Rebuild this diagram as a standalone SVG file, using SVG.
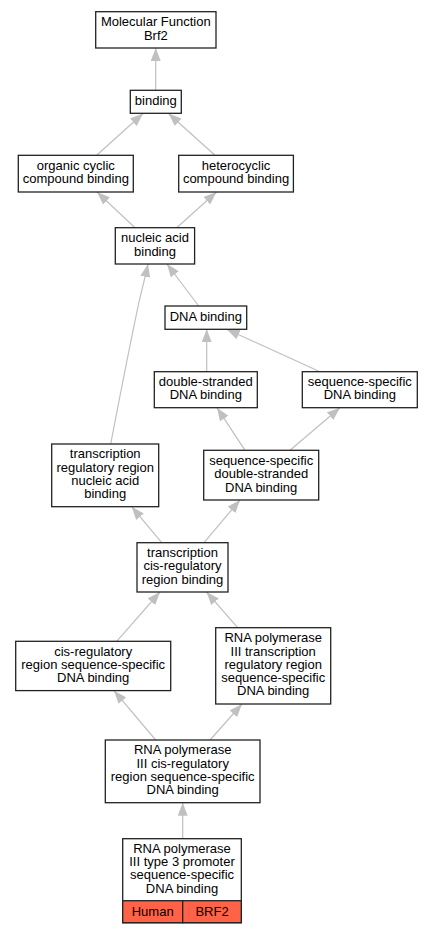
<svg xmlns="http://www.w3.org/2000/svg" width="433" height="933" viewBox="0 0 433 933">
<style>
.n rect{fill:#fff;stroke:#222;stroke-width:1.3}
.n text,.c text{font-family:"Liberation Sans",Arial,sans-serif;font-size:13px;fill:#000;text-anchor:middle}
.e path{fill:none;stroke:#c0c0c0;stroke-width:1.2;marker-end:url(#a)}
.n rect.r{fill:#ff6347;stroke:#222;stroke-width:1.3}
</style>
<defs>
<marker id="a" viewBox="0 0 10 10" refX="10" refY="5" markerWidth="13" markerHeight="10" markerUnits="userSpaceOnUse" orient="auto" preserveAspectRatio="none">
<path d="M0,0L10,5L0,10z" fill="#c0c0c0"/>
</marker>
</defs>
<rect width="433" height="933" fill="#fff"/>
<g class="e" id="edges">
<path d="M155.7,90.3L155.7,48"/>
<path d="M96.7,155.3L143,113.5"/>
<path d="M215,155.3L168.5,113.5"/>
<path d="M135,227.7L97,192"/>
<path d="M176.7,227.7L216.5,192"/>
<path d="M198.7,306L167,264"/>
<path d="M110.7,444C122,385 132,335 139,302C142,289 145,278 148,264"/>
<path d="M206.7,371.7L206.7,329.3"/>
<path d="M320,371.7L226.7,329.3"/>
<path d="M245,450.3L217,407.7"/>
<path d="M290,450.3L340,407.7"/>
<path d="M161.7,542.7L131.7,506.7"/>
<path d="M204,542.7L240,500"/>
<path d="M116.7,641.3L160,592"/>
<path d="M237.7,627.7L206.5,592"/>
<path d="M155.7,740L114,690.7"/>
<path d="M210,740L242,704"/>
<path d="M182.7,838.7L182.7,802.7"/>
</g>
<g class="n" id="mf"><rect x="95.7" y="11.7" width="120.3" height="36.3"/><text x="155.8" y="26.3">Molecular Function</text><text x="155.8" y="39.6">Brf2</text></g>
<g class="n" id="binding"><rect x="130.3" y="90.3" width="51" height="23"/><text x="155.8" y="104.8">binding</text></g>
<g class="n" id="organic"><rect x="18.3" y="155.3" width="115" height="36.7"/><text x="75.8" y="170">organic cyclic</text><text x="75.8" y="183.3">compound binding</text></g>
<g class="n" id="hetero"><rect x="178.7" y="155.3" width="114.7" height="36.7"/><text x="236" y="170">heterocyclic</text><text x="236" y="183.3">compound binding</text></g>
<g class="n" id="nucleic"><rect x="115.3" y="227.7" width="79.3" height="36.3"/><text x="155" y="242.2">nucleic acid</text><text x="155" y="255.5">binding</text></g>
<g class="n" id="dna"><rect x="165" y="306" width="81.7" height="23.3"/><text x="205.8" y="320.7">DNA binding</text></g>
<g class="n" id="ds"><rect x="154.3" y="371.7" width="103" height="36"/><text x="205.8" y="386">double-stranded</text><text x="205.8" y="399.3">DNA binding</text></g>
<g class="n" id="ss"><rect x="302.3" y="371.7" width="115" height="36"/><text x="359.8" y="386">sequence-specific</text><text x="359.8" y="399.3">DNA binding</text></g>
<g class="n" id="trr"><rect x="51.7" y="444" width="107" height="62.7"/><text x="105.2" y="458.3">transcription</text><text x="105.2" y="471.6">regulatory region</text><text x="105.2" y="484.9">nucleic acid</text><text x="105.2" y="498.2">binding</text></g>
<g class="n" id="ssds"><rect x="203.7" y="450.3" width="115" height="49.7"/><text x="261.2" y="464.9">sequence-specific</text><text x="261.2" y="478.2">double-stranded</text><text x="261.2" y="491.5">DNA binding</text></g>
<g class="n" id="tcis"><rect x="137" y="542.7" width="91" height="49.3"/><text x="182.5" y="557">transcription</text><text x="182.5" y="570.3">cis-regulatory</text><text x="182.5" y="583.6">region binding</text></g>
<g class="n" id="cisss"><rect x="15.7" y="641.3" width="155" height="49.3"/><text x="93.2" y="655.7">cis-regulatory</text><text x="93.2" y="669">region sequence-specific</text><text x="93.2" y="682.3">DNA binding</text></g>
<g class="n" id="p3trr"><rect x="215.7" y="627.7" width="115" height="76.3"/><text x="273.2" y="642.2">RNA polymerase</text><text x="273.2" y="655.5">III transcription</text><text x="273.2" y="668.8">regulatory region</text><text x="273.2" y="682.1">sequence-specific</text><text x="273.2" y="695.4">DNA binding</text></g>
<g class="n" id="p3cis"><rect x="105.3" y="740" width="154.7" height="62.7"/><text x="182.7" y="754.3">RNA polymerase</text><text x="182.7" y="767.6">III cis-regulatory</text><text x="182.7" y="780.9">region sequence-specific</text><text x="182.7" y="794.2">DNA binding</text></g>
<g class="n" id="p3t3"><rect x="122.7" y="838.7" width="118.6" height="84"/><text x="182" y="852.7">RNA polymerase</text><text x="182" y="866">III type 3 promoter</text><text x="182" y="879.3">sequence-specific</text><text x="182" y="892.6">DNA binding</text>
<rect class="r" x="122.7" y="900.7" width="60" height="22"/><rect class="r" x="182.7" y="900.7" width="58.6" height="22"/><text x="152.7" y="915.5">Human</text><text x="212" y="915.5">BRF2</text></g>
</svg>
